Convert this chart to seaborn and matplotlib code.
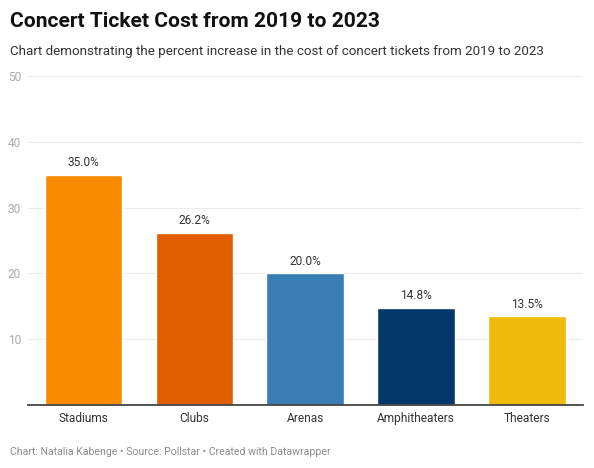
import matplotlib
matplotlib.use("Agg")
import matplotlib.pyplot as plt
import seaborn as sns
import pandas as pd

# Data
venues = ["Stadiums", "Clubs", "Arenas", "Amphitheaters", "Theaters"]
increase = [35.0, 26.2, 20.0, 14.8, 13.5]
bar_colors = ["#f98b00", "#e05e00", "#387db3", "#04386b", "#f0ba0a"]
y_ticks = [10, 20, 30, 40, 50]

df = pd.DataFrame({"venue": venues, "increase": increase})

sns.set_theme(style="white")
plt.rcParams["font.family"] = ["Roboto", "DejaVu Sans"]

fig = plt.figure(figsize=(5.94, 4.68), dpi=100)
ax = fig.add_axes([0.047, 0.1346, 0.934, 0.703])

sns.barplot(data=df, x="venue", y="increase", hue="venue",
            palette=bar_colors, width=0.7, legend=False, ax=ax, saturation=1)

ax.set_ylim(0, 50)
ax.set_xlim(-0.5, len(venues) - 0.5)
ax.set_yticks(y_ticks)
ax.grid(axis="y", color="#ececec", linewidth=0.8)
ax.set_axisbelow(True)
for s in ["top", "right", "left"]:
    ax.spines[s].set_visible(False)
ax.spines["bottom"].set_color("#444444")
ax.spines["bottom"].set_linewidth(1.3)
ax.set_xlabel("")
ax.set_ylabel("")
ax.tick_params(axis="x", length=0, pad=5, labelsize=8.6, labelcolor="#333333")
# left aligned y labels starting ~8px from the figure edge
ax.tick_params(axis="y", length=0, pad=14.4, labelsize=8.6, labelcolor="#aaaaaa")
for lab in ax.get_yticklabels():
    lab.set_horizontalalignment("left")

# value labels
for i, v in enumerate(increase):
    ax.annotate(f"{v:.1f}%", (i, v), xytext=(0, 4), textcoords="offset points",
                ha="center", va="bottom", fontsize=8.6, color="#333333")

fig.text(0.017, 0.953, "Concert Ticket Cost from 2019 to 2023", fontsize=15.1,
         fontweight="bold", color="#111111", va="center", ha="left")
fig.text(0.017, 0.891, "Chart demonstrating the percent increase in the cost of concert tickets from 2019 to 2023",
         fontsize=9.6, color="#333333", va="center", ha="left")
fig.text(0.017, 0.034, "Chart: Natalia Kabenge \u2022 Source: Pollstar \u2022 Created with Datawrapper",
         fontsize=7.6, color="#8c8c8c", va="center", ha="left")

fig.savefig("out.png", dpi=100)
